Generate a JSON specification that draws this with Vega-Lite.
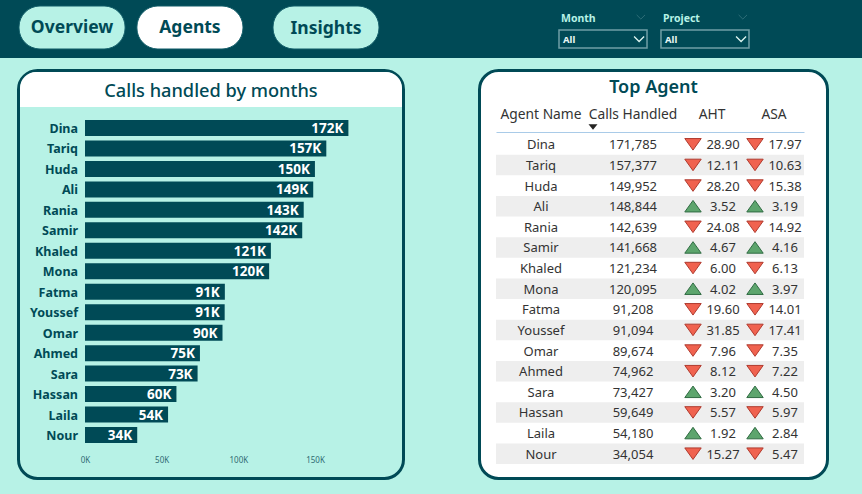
{"$schema":"https://vega.github.io/schema/vega-lite/v6.json","padding":0,"autosize":{"type":"pad"},"background":"#B7F2E6","config":{"view":{"stroke":null},"font":"Noto Sans","text":{"font":"Noto Sans"},"concat":{"spacing":0}},"datasets":{"agents":[{"agent":"Dina","calls":171785,"aht":28.9,"asa":17.97},{"agent":"Tariq","calls":157377,"aht":12.11,"asa":10.63},{"agent":"Huda","calls":149952,"aht":28.2,"asa":15.38},{"agent":"Ali","calls":148844,"aht":3.52,"asa":3.19},{"agent":"Rania","calls":142639,"aht":24.08,"asa":14.92},{"agent":"Samir","calls":141668,"aht":4.67,"asa":4.16},{"agent":"Khaled","calls":121234,"aht":6.0,"asa":6.13},{"agent":"Mona","calls":120095,"aht":4.02,"asa":3.97},{"agent":"Fatma","calls":91208,"aht":19.6,"asa":14.01},{"agent":"Youssef","calls":91094,"aht":31.85,"asa":17.41},{"agent":"Omar","calls":89674,"aht":7.96,"asa":7.35},{"agent":"Ahmed","calls":74962,"aht":8.12,"asa":7.22},{"agent":"Sara","calls":73427,"aht":3.2,"asa":4.5},{"agent":"Hassan","calls":59649,"aht":5.57,"asa":5.97},{"agent":"Laila","calls":54180,"aht":1.92,"asa":2.84},{"agent":"Nour","calls":34054,"aht":15.27,"asa":5.47}],"tabs":[{"tab":"Overview"},{"tab":"Agents"}],"tab3":[{"tab":"Insights"}],"filters":[{"filter":"Month","choice":"All"},{"filter":"Project","choice":"All"}]},"vconcat":[{"width":862,"height":58,"view":{"fill":"#004A56","stroke":null},"layer":[{"data":{"name":"tabs"},"mark":{"type":"rect","cornerRadius":21,"stroke":"#0E5A66","strokeWidth":1},"encoding":{"x":{"field":"tab","type":"nominal","sort":null,"scale":{"type":"band","range":[19,243],"paddingInner":0.1,"paddingOuter":0},"axis":null},"y":{"datum":"tabs","type":"nominal","scale":{"type":"band","domain":["tabs"],"range":[6,49],"paddingInner":0,"paddingOuter":0},"axis":null},"fill":{"field":"tab","type":"nominal","scale":{"domain":["Overview","Agents"],"range":["#B7F2E6","#FFFFFF"]},"legend":null}}},{"data":{"name":"tabs"},"mark":{"type":"text","fontSize":17.5,"fontWeight":"bold","color":"#004A56","dy":0},"encoding":{"x":{"field":"tab","type":"nominal","sort":null,"scale":{"type":"band","range":[19,243],"paddingInner":0.1,"paddingOuter":0},"axis":null},"y":{"datum":"tabs","type":"nominal","scale":{"type":"band","domain":["tabs"],"range":[6,49],"paddingInner":0,"paddingOuter":0},"axis":null},"text":{"field":"tab"}}},{"data":{"name":"tab3"},"mark":{"type":"rect","cornerRadius":21,"stroke":"#0E5A66","strokeWidth":1,"fill":"#B7F2E6"},"encoding":{"x":{"field":"tab","type":"nominal","scale":{"type":"band","range":[273,379],"paddingInner":0,"paddingOuter":0},"axis":null},"y":{"datum":"tabs","type":"nominal","scale":{"type":"band","domain":["tabs"],"range":[6,49],"paddingInner":0,"paddingOuter":0},"axis":null}}},{"data":{"name":"tab3"},"mark":{"type":"text","fontSize":17.5,"fontWeight":"bold","color":"#004A56","dy":1},"encoding":{"x":{"field":"tab","type":"nominal","scale":{"type":"band","range":[273,379],"paddingInner":0,"paddingOuter":0},"axis":null},"y":{"datum":"tabs","type":"nominal","scale":{"type":"band","domain":["tabs"],"range":[6,49],"paddingInner":0,"paddingOuter":0},"axis":null},"text":{"field":"tab"}}},{"data":{"name":"filters"},"mark":{"type":"rect","fill":"#004A56","stroke":"#6F9FA6","strokeWidth":1.5},"encoding":{"x":{"field":"filter","type":"nominal","sort":null,"scale":{"type":"band","range":[559,749],"paddingInner":0.137,"paddingOuter":0},"axis":null},"y":{"datum":"box","type":"nominal","scale":{"type":"band","domain":["box"],"range":[30,48],"paddingInner":0,"paddingOuter":0},"axis":null}}},{"data":{"name":"filters"},"mark":{"type":"text","fontSize":10.5,"fontWeight":"bold","color":"#B7F2E6","align":"left","dx":2,"dy":1},"encoding":{"x":{"field":"filter","type":"nominal","sort":null,"bandPosition":0,"scale":{"type":"band","range":[559,749],"paddingInner":0.137,"paddingOuter":0},"axis":null},"y":{"datum":"label","type":"nominal","scale":{"type":"band","domain":["label"],"range":[10,26],"paddingInner":0,"paddingOuter":0},"axis":null},"text":{"field":"filter"}}},{"data":{"name":"filters"},"mark":{"type":"text","fontSize":9.5,"fontWeight":"bold","color":"#E8F8F5","align":"left","dx":4,"dy":1},"encoding":{"x":{"field":"filter","type":"nominal","sort":null,"bandPosition":0,"scale":{"type":"band","range":[559,749],"paddingInner":0.137,"paddingOuter":0},"axis":null},"y":{"datum":"box","type":"nominal","scale":{"type":"band","domain":["box"],"range":[30,48],"paddingInner":0,"paddingOuter":0},"axis":null},"text":{"field":"choice"}}},{"data":{"name":"filters"},"mark":{"type":"point","shape":"M-1,-0.5L0,0.5L1,-0.5","filled":false,"stroke":"#DDF5F0","strokeWidth":1.3,"size":100,"opacity":1},"encoding":{"x":{"field":"filter","type":"nominal","sort":null,"bandPosition":0.91,"scale":{"type":"band","range":[559,749],"paddingInner":0.137,"paddingOuter":0},"axis":null},"y":{"datum":"box","type":"nominal","scale":{"type":"band","domain":["box"],"range":[30,48],"paddingInner":0,"paddingOuter":0},"axis":null}}},{"data":{"name":"filters"},"mark":{"type":"point","shape":"M-1,-0.5L0,0.5L1,-0.5","filled":false,"stroke":"#2E6E78","strokeWidth":1,"size":70,"opacity":1},"encoding":{"x":{"field":"filter","type":"nominal","sort":null,"bandPosition":0.93,"scale":{"type":"band","range":[559,749],"paddingInner":0.137,"paddingOuter":0},"axis":null},"y":{"datum":"label","type":"nominal","scale":{"type":"band","domain":["label"],"range":[10,24],"paddingInner":0,"paddingOuter":0},"axis":null}}}],"resolve":{"scale":{"x":"independent","y":"independent","fill":"independent"},"axis":{"x":"independent","y":"independent"}}},{"height":11,"width":862,"data":{"values":[{"gap":"gap"}]},"mark":{"type":"rect","opacity":0}},{"spacing":0,"hconcat":[{"width":17,"height":411,"data":{"values":[{"gap":"gap"}]},"mark":{"type":"rect","opacity":0}},{"width":388,"height":411,"layer":[{"data":{"values":[{"panel":"bars"}]},"mark":{"type":"rect","fill":"#B7F2E6","stroke":"#004A56","strokeWidth":3,"cornerRadius":19},"encoding":{"x":{"field":"panel","type":"nominal","scale":{"type":"band","range":[1.5,386.5],"paddingInner":0,"paddingOuter":0},"axis":null},"y":{"field":"panel","type":"nominal","scale":{"type":"band","range":[1.5,409.5],"paddingInner":0,"paddingOuter":0},"axis":null}}},{"data":{"values":[{"title":"Calls handled by months"}]},"mark":{"type":"rect","fill":"#FFFFFF","cornerRadiusTopLeft":16,"cornerRadiusTopRight":16},"encoding":{"x":{"field":"title","type":"nominal","scale":{"type":"band","range":[3,385],"paddingInner":0,"paddingOuter":0},"axis":null},"y":{"field":"title","type":"nominal","scale":{"type":"band","range":[3,38],"paddingInner":0,"paddingOuter":0},"axis":null}}},{"data":{"values":[{"title":"Calls handled by months"}]},"mark":{"type":"text","fontSize":18.2,"fontWeight":500,"color":"#004A56"},"encoding":{"x":{"field":"title","type":"nominal","scale":{"type":"band","range":[3,385],"paddingInner":0,"paddingOuter":0},"axis":null},"y":{"field":"title","type":"nominal","scale":{"type":"band","range":[7,39],"paddingInner":0,"paddingOuter":0},"axis":null},"text":{"field":"title"}}},{"data":{"name":"agents"},"mark":{"type":"bar","size":16,"fill":"#004A56"},"encoding":{"x":{"field":"calls","type":"quantitative","scale":{"domain":[0,150000],"range":[68,298],"nice":false,"zero":false},"axis":{"values":[0,50000,100000,150000],"labelExpr":"format(datum.value/1000,'d')+'K'","title":null,"orient":"bottom","offset":-24,"domain":false,"ticks":false,"grid":false,"labelFlush":false,"labelPadding":0,"labelFontSize":8,"labelColor":"#2F6B73","labelFont":"Noto Sans","zindex":1}},"y":{"field":"agent","type":"nominal","sort":null,"scale":{"type":"band","range":[48.75,376.25],"paddingInner":0,"paddingOuter":0},"axis":null}}},{"data":{"name":"agents"},"transform":[{"calculate":"format(datum.calls/1000,'.0f')+'K'","as":"short"}],"mark":{"type":"text","fontSize":13.5,"fontWeight":"bold","color":"#FFFFFF","align":"right","dx":-5,"dy":1},"encoding":{"x":{"field":"calls","type":"quantitative","scale":{"domain":[0,150000],"range":[68,298],"nice":false,"zero":false},"axis":null},"y":{"field":"agent","type":"nominal","sort":null,"scale":{"type":"band","range":[48.75,376.25],"paddingInner":0,"paddingOuter":0},"axis":null},"text":{"field":"short"}}},{"data":{"name":"agents"},"mark":{"type":"text","fontSize":12.5,"fontWeight":"bold","color":"#004A56","align":"right","dy":1},"encoding":{"x":{"datum":"names","type":"nominal","scale":{"type":"band","domain":["names"],"range":[61,61],"paddingInner":0,"paddingOuter":0},"axis":null},"y":{"field":"agent","type":"nominal","sort":null,"scale":{"type":"band","range":[48.75,376.25],"paddingInner":0,"paddingOuter":0},"axis":null},"text":{"field":"agent"}}}],"resolve":{"scale":{"x":"independent","y":"independent"},"axis":{"x":"independent","y":"independent"}}},{"width":73,"height":411,"data":{"values":[{"gap":"gap"}]},"mark":{"type":"rect","opacity":0}},{"width":351,"height":411,"layer":[{"data":{"values":[{"panel":"table"}]},"mark":{"type":"rect","fill":"#FFFFFF","stroke":"#004A56","strokeWidth":3,"cornerRadius":19},"encoding":{"x":{"field":"panel","type":"nominal","scale":{"type":"band","range":[1.5,349.5],"paddingInner":0,"paddingOuter":0},"axis":null},"y":{"field":"panel","type":"nominal","scale":{"type":"band","range":[1.5,409.5],"paddingInner":0,"paddingOuter":0},"axis":null}}},{"data":{"values":[{"title":"Top Agent"}]},"mark":{"type":"text","fontSize":18,"fontWeight":600,"color":"#004A56"},"encoding":{"x":{"field":"title","type":"nominal","scale":{"type":"band","range":[3,348],"paddingInner":0,"paddingOuter":0},"axis":null},"y":{"field":"title","type":"nominal","scale":{"type":"band","range":[6,32],"paddingInner":0,"paddingOuter":0},"axis":null},"text":{"field":"title"}}},{"data":{"name":"agents"},"transform":[{"filter":{"field":"agent","oneOf":["Tariq","Ali","Samir","Mona","Youssef","Ahmed","Hassan","Nour"]}}],"mark":{"type":"rect","fill":"#EEEEEE"},"encoding":{"x":{"datum":"rows","type":"nominal","scale":{"type":"band","domain":["rows"],"range":[18,326],"paddingInner":0,"paddingOuter":0},"axis":{"orient":"top","offset":-63,"labels":false,"ticks":false,"title":null,"domain":true,"domainColor":"#A9CBE8","domainWidth":1,"zindex":1}},"y":{"field":"agent","type":"nominal","scale":{"type":"band","domain":["Dina","Tariq","Huda","Ali","Rania","Samir","Khaled","Mona","Fatma","Youssef","Omar","Ahmed","Sara","Hassan","Laila","Nour"],"range":[65,395],"paddingInner":0,"paddingOuter":0},"axis":null}}},{"data":{"name":"agents"},"mark":{"type":"text","fontSize":13,"color":"#333333","dy":1},"encoding":{"x":{"datum":"Agent Name","type":"nominal","scale":{"type":"band","domain":["Agent Name"],"range":[63,63],"paddingInner":0,"paddingOuter":0},"axis":{"orient":"top","offset":-52,"labelPadding":0,"labelAngle":0,"labelFontSize":13.8,"labelColor":"#333333","labelFont":"Noto Sans","ticks":false,"domain":false,"title":null,"zindex":1}},"y":{"field":"agent","type":"nominal","sort":null,"scale":{"type":"band","range":[65,395],"paddingInner":0,"paddingOuter":0},"axis":null},"text":{"field":"agent"}}},{"data":{"name":"agents"},"mark":{"type":"text","fontSize":13,"color":"#333333","dy":1},"encoding":{"x":{"datum":"Calls Handled","type":"nominal","scale":{"type":"band","domain":["Calls Handled"],"range":[155,155],"paddingInner":0,"paddingOuter":0},"axis":{"orient":"top","offset":-52,"labelPadding":0,"labelAngle":0,"labelFontSize":13.8,"labelColor":"#333333","labelFont":"Noto Sans","ticks":false,"domain":false,"title":null,"zindex":1}},"y":{"field":"agent","type":"nominal","sort":null,"scale":{"type":"band","range":[65,395],"paddingInner":0,"paddingOuter":0},"axis":null},"text":{"field":"calls","type":"quantitative","format":","}}},{"data":{"name":"agents"},"mark":{"type":"text","fontSize":13,"color":"#333333","dy":1},"encoding":{"x":{"datum":"AHT","type":"nominal","scale":{"type":"band","domain":["AHT"],"range":[245,245],"paddingInner":0,"paddingOuter":0},"axis":{"orient":"top","offset":-52,"labelPadding":0,"labelAngle":0,"labelOffset":-11,"labelFontSize":13.8,"labelColor":"#333333","labelFont":"Noto Sans","ticks":false,"domain":false,"title":null,"zindex":1}},"y":{"field":"agent","type":"nominal","sort":null,"scale":{"type":"band","range":[65,395],"paddingInner":0,"paddingOuter":0},"axis":null},"text":{"field":"aht","type":"quantitative","format":".2f"}}},{"data":{"name":"agents"},"mark":{"type":"text","fontSize":13,"color":"#333333","dy":1},"encoding":{"x":{"datum":"ASA","type":"nominal","scale":{"type":"band","domain":["ASA"],"range":[307,307],"paddingInner":0,"paddingOuter":0},"axis":{"orient":"top","offset":-52,"labelPadding":0,"labelAngle":0,"labelOffset":-11,"labelFontSize":13.8,"labelColor":"#333333","labelFont":"Noto Sans","ticks":false,"domain":false,"title":null,"zindex":1}},"y":{"field":"agent","type":"nominal","sort":null,"scale":{"type":"band","range":[65,395],"paddingInner":0,"paddingOuter":0},"axis":null},"text":{"field":"asa","type":"quantitative","format":".2f"}}},{"data":{"name":"agents"},"mark":{"type":"point","filled":true,"size":270,"opacity":1,"strokeWidth":1},"encoding":{"x":{"datum":"AHT marker","type":"nominal","scale":{"type":"band","domain":["AHT marker"],"range":[215,215],"paddingInner":0,"paddingOuter":0},"axis":null},"y":{"field":"agent","type":"nominal","sort":null,"scale":{"type":"band","range":[65,395],"paddingInner":0,"paddingOuter":0},"axis":null},"shape":{"field":"aht","type":"quantitative","scale":{"type":"threshold","domain":[5],"range":["M-1,0.7L1,0.7L0,-0.7Z","M-1,-0.7L1,-0.7L0,0.7Z"]},"legend":null},"fill":{"field":"aht","type":"quantitative","scale":{"type":"threshold","domain":[5],"range":["#5DA56D","#F0624F"]},"legend":null},"stroke":{"field":"aht","type":"quantitative","scale":{"type":"threshold","domain":[5],"range":["#2F6B42","#B03A2E"]},"legend":null}}},{"data":{"name":"agents"},"mark":{"type":"point","filled":true,"size":270,"opacity":1,"strokeWidth":1},"encoding":{"x":{"datum":"ASA marker","type":"nominal","scale":{"type":"band","domain":["ASA marker"],"range":[277,277],"paddingInner":0,"paddingOuter":0},"axis":null},"y":{"field":"agent","type":"nominal","sort":null,"scale":{"type":"band","range":[65,395],"paddingInner":0,"paddingOuter":0},"axis":null},"shape":{"field":"asa","type":"quantitative","scale":{"type":"threshold","domain":[5],"range":["M-1,0.7L1,0.7L0,-0.7Z","M-1,-0.7L1,-0.7L0,0.7Z"]},"legend":null},"fill":{"field":"asa","type":"quantitative","scale":{"type":"threshold","domain":[5],"range":["#5DA56D","#F0624F"]},"legend":null},"stroke":{"field":"asa","type":"quantitative","scale":{"type":"threshold","domain":[5],"range":["#2F6B42","#B03A2E"]},"legend":null}}},{"data":{"values":[{"sorted":"descending"}]},"mark":{"type":"point","filled":true,"fill":"#252423","shape":"M-1,-0.6L1,-0.6L0,0.6Z","size":81,"opacity":1},"encoding":{"x":{"field":"sorted","type":"nominal","scale":{"type":"band","range":[115,115],"paddingInner":0,"paddingOuter":0},"axis":null},"y":{"field":"sorted","type":"nominal","scale":{"type":"band","range":[58,58],"paddingInner":0,"paddingOuter":0},"axis":null}}}],"resolve":{"scale":{"x":"independent","y":"independent","shape":"independent","fill":"independent","stroke":"independent"},"axis":{"x":"independent","y":"independent"}}}]},{"height":14,"width":862,"data":{"values":[{"gap":"gap"}]},"mark":{"type":"rect","opacity":0}}],"spacing":0}
